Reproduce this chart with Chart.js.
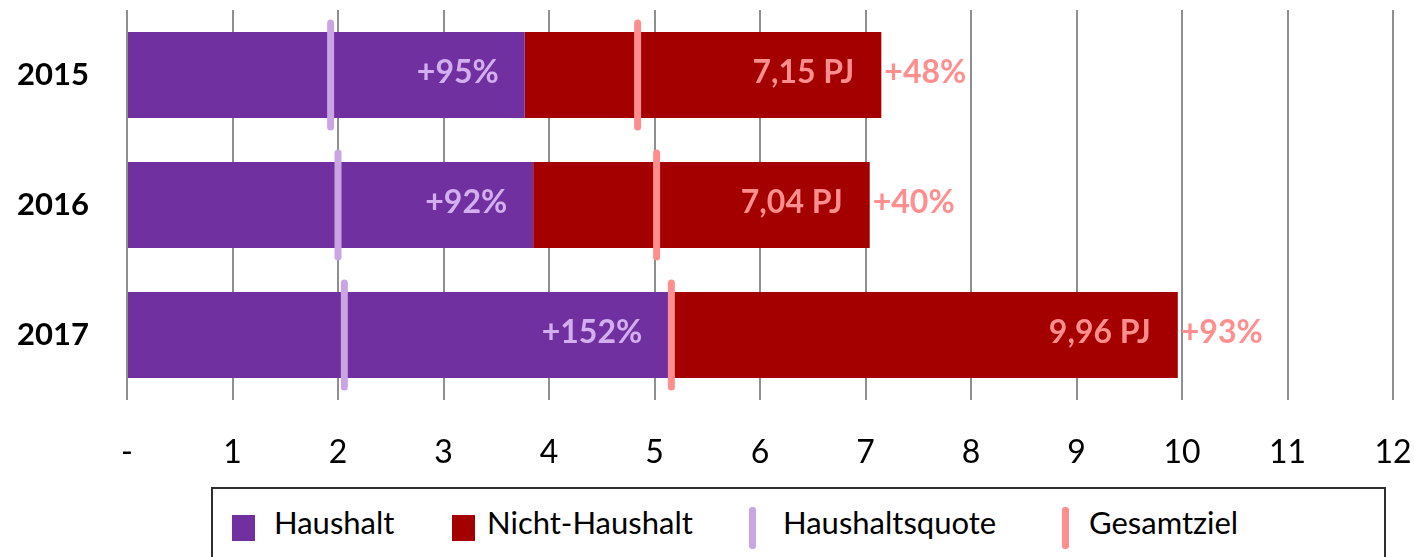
<!DOCTYPE html>
<html>
<head>
<meta charset="utf-8">
<title>Haushalt / Nicht-Haushalt</title>
<script src="https://cdn.jsdelivr.net/npm/chart.js@4.4.0/dist/chart.umd.min.js"></script>
<style>
  html, body { margin: 0; padding: 0; background: #fff; overflow: hidden; }
  #wrap { position: relative; width: 1414px; height: 557px; }
  #chartBox { position: absolute; left: 0; top: 0; width: 1414px; height: 480px; }
  #legend {
    position: absolute; left: 211px; top: 487px; width: 1175px; height: 100px;
    border: 2px solid #2e2e2e; box-sizing: border-box;
    font-family: Lato, sans-serif; font-size: 31px; color: #000;
  }
  #legend .swatch { position: absolute; }
  #legend .text { position: absolute; top: 15px; line-height: 1.2; white-space: nowrap; }
</style>
</head>
<body>
<div id="wrap">
  <div id="chartBox"><canvas id="quoteChart"></canvas></div>
  <div id="legend"></div>
</div>
<script>
// data (PJ)
const years = ['2015', '2016', '2017'];
const haushalt = [3.77, 3.85, 5.13];
const nichtHaushalt = [3.38, 3.19, 4.83];
const haushaltsquote = [1.93, 2.00, 2.06];
const gesamtziel = [4.84, 5.02, 5.16];

// label texts
const quoteLabels = ['+95%', '+92%', '+152%'];
const totalLabels = ['7,15 PJ', '7,04 PJ', '9,96 PJ'];
const zielLabels = ['+48%', '+40%', '+93%'];
const xTickLabels = ['-', '1', '2', '3', '4', '5', '6', '7', '8', '9', '10', '11', '12'];

const purple = '#7030A0';
const darkRed = '#A50000';
const lightPurple = '#C9A5E4';
const pink = '#FF8E8E';

// round caps for the marker lines
const roundCaps = {
    id: 'roundCaps',
    beforeDatasetDraw(chart, args) {
        if (args.meta.type === 'line') chart.ctx.lineCap = 'round';
    },
    afterDatasetDraw(chart) {
        chart.ctx.lineCap = 'butt';
    }
};

// text labels on / next to the bars
const barLabels = {
    id: 'barLabels',
    afterDatasetsDraw(chart) {
        const ctx = chart.ctx;
        const hhBars = chart.getDatasetMeta(0).data;
        const nhBars = chart.getDatasetMeta(1).data;
        ctx.save();
        ctx.font = 'bold 32px Lato';
        ctx.textBaseline = 'middle';
        hhBars.forEach((bar, i) => {
            ctx.textAlign = 'right';
            ctx.fillStyle = '#D3AFF0';
            ctx.fillText(quoteLabels[i], bar.x - 26, bar.y - 2);
        });
        nhBars.forEach((bar, i) => {
            ctx.textAlign = 'right';
            ctx.fillStyle = pink;
            ctx.fillText(totalLabels[i], bar.x - 27, bar.y - 2);
            ctx.textAlign = 'left';
            ctx.fillText(zielLabels[i], bar.x + 3, bar.y - 2);
        });
        ctx.restore();
    }
};

// no extra padding from the tick labels
function noLabelPadding(scale) {
    scale.paddingLeft = 0;
    scale.paddingRight = 0;
    scale.paddingTop = 0;
    scale.paddingBottom = 0;
}

const ctx = document.getElementById('quoteChart').getContext('2d');
const quoteChart = new Chart(ctx, {
    type: 'bar',
    data: {
        labels: years,
        datasets: [
            {
                label: 'Haushalt',
                data: haushalt,
                backgroundColor: purple,
                order: 2
            },
            {
                label: 'Nicht-Haushalt',
                data: nichtHaushalt,
                backgroundColor: darkRed,
                order: 2
            },
            {
                type: 'line',
                label: 'Haushaltsquote',
                data: haushaltsquote,
                stack: 'quote',
                showLine: false,
                pointStyle: 'line',
                rotation: 90,
                pointRadius: 52,
                pointBorderWidth: 7,
                pointBorderColor: lightPurple,
                pointBackgroundColor: lightPurple,
                order: 1
            },
            {
                type: 'line',
                label: 'Gesamtziel',
                data: gesamtziel,
                stack: 'ziel',
                showLine: false,
                pointStyle: 'line',
                rotation: 90,
                pointRadius: 52,
                pointBorderWidth: 7,
                pointBorderColor: pink,
                pointBackgroundColor: pink,
                order: 1
            }
        ]
    },
    options: {
        indexAxis: 'y',
        responsive: true,
        maintainAspectRatio: false,
        animation: false,
        events: [],
        layout: { autoPadding: false, padding: { top: 10, right: 21, left: 0, bottom: 0 } },
        datasets: {
            bar: { categoryPercentage: 1, barPercentage: 0.66 }
        },
        plugins: {
            legend: { display: false },
            tooltip: { enabled: false }
        },
        scales: {
            x: {
                stacked: true,
                min: 0,
                max: 12,
                ticks: {
                    stepSize: 1,
                    padding: 33,
                    color: '#000',
                    font: { family: 'Lato', size: 32 },
                    callback: (value, index) => xTickLabels[index]
                },
                grid: { color: '#8f8f8f', lineWidth: 2, drawTicks: false },
                border: { display: false },
                afterFit: scale => { noLabelPadding(scale); scale.height = 80; }
            },
            y: {
                stacked: true,
                ticks: {
                    padding: 38,
                    color: '#000',
                    font: { family: 'Lato', size: 31, weight: 'bold' }
                },
                grid: { display: false, drawTicks: false },
                border: { display: false },
                afterFit: scale => { noLabelPadding(scale); scale.width = 127; }
            }
        }
    },
    plugins: [roundCaps, barLabels]
});

// html legend built from the datasets
const legendPos = [[232, 274], [452, 487], [749, 783], [1062, 1089]];
const legendEl = document.getElementById('legend');
const legendOrigin = 213;
quoteChart.data.datasets.forEach((ds, i) => {
    const sw = document.createElement('div');
    sw.className = 'swatch';
    if (ds.type === 'line') {
        sw.style.cssText = `left:${legendPos[i][0] - legendOrigin}px;top:18px;width:7px;height:42px;border-radius:3px;background:${ds.pointBorderColor}`;
    } else {
        sw.style.cssText = `left:${legendPos[i][0] - legendOrigin}px;top:26px;width:23px;height:26px;background:${ds.backgroundColor}`;
    }
    const tx = document.createElement('div');
    tx.className = 'text';
    tx.style.left = (legendPos[i][1] - legendOrigin) + 'px';
    tx.textContent = ds.label;
    legendEl.appendChild(sw);
    legendEl.appendChild(tx);
});
</script>
</body>
</html>
